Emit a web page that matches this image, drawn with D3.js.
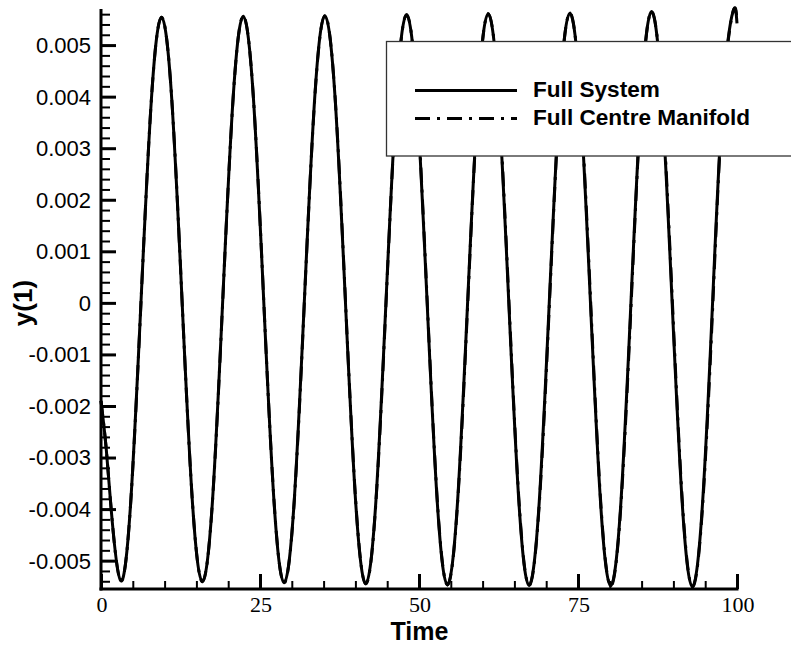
<!DOCTYPE html>
<html>
<head>
<meta charset="utf-8">
<script src="https://cdn.jsdelivr.net/npm/d3@7"></script>
<style>
  html, body { margin: 0; padding: 0; background: #fff; }
  svg { display: block; }
</style>
</head>
<body>
<svg id="chart" width="791" height="646"></svg>
<script>
// ---------------- data ----------------
const time = [
  0, 0.8, 1.6,
  3.10, 4.71, 6.31, 7.92, 9.52, 11.13, 12.73, 14.34,
  15.94, 17.55, 19.15, 20.76, 22.36, 23.97, 25.57, 27.18,
  28.78, 30.39, 31.99, 33.60, 35.20, 36.81, 38.41, 40.02,
  41.62, 43.23, 44.83, 46.44, 48.04, 49.65, 51.25, 52.86,
  54.46, 56.07, 57.67, 59.28, 60.88, 62.49, 64.09, 65.70,
  67.30, 68.91, 70.51, 72.12, 73.72, 75.33, 76.93, 78.54,
  80.14, 81.75, 83.35, 84.96, 86.56, 88.17, 89.77, 91.38,
  92.98, 94.59, 96.19, 97.80, 99.40, 100
];
const fullSystem = [
  -0.0019, -0.0028, -0.0040,
  -0.00539, -0.00379, 0.00008, 0.00394, 0.00554, 0.00394, 0.00008, -0.00380,
  -0.00541, -0.00380, 0.00008, 0.00395, 0.00556, 0.00396, 0.00008, -0.00381,
  -0.00543, -0.00382, 0.00008, 0.00397, 0.00557, 0.00397, 0.00008, -0.00382,
  -0.00545, -0.00383, 0.00008, 0.00398, 0.00559, 0.00399, 0.00008, -0.00384,
  -0.00547, -0.00384, 0.00008, 0.00400, 0.00561, 0.00400, 0.00008, -0.00385,
  -0.00548, -0.00385, 0.00008, 0.00401, 0.00562, 0.00402, 0.00008, -0.00386,
  -0.00549, -0.00386, 0.00008, 0.00402, 0.00565, 0.00403, 0.00009, -0.00387,
  -0.00551, -0.00387, 0.00009, 0.00403, 0.00566, 0.00542
];
const centreManifold = [
  -0.0019, -0.0028, -0.0040,
  -0.00539, -0.00380, 0.00007, 0.00394, 0.00554, 0.00395, 0.00009, -0.00379,
  -0.00541, -0.00381, 0.00006, 0.00394, 0.00556, 0.00397, 0.00010, -0.00379,
  -0.00543, -0.00384, 0.00005, 0.00395, 0.00557, 0.00399, 0.00012, -0.00379,
  -0.00545, -0.00386, 0.00003, 0.00396, 0.00559, 0.00401, 0.00014, -0.00380,
  -0.00547, -0.00388, 0.00001, 0.00397, 0.00561, 0.00403, 0.00016, -0.00380,
  -0.00548, -0.00390, -0.00001, 0.00398, 0.00562, 0.00405, 0.00018, -0.00380,
  -0.00549, -0.00392, -0.00003, 0.00398, 0.00565, 0.00407, 0.00021, -0.00380,
  -0.00551, -0.00394, -0.00005, 0.00398, 0.00566, 0.00548
];

const xTicks = [0, 25, 50, 75, 100];
const xTickLabels = ["0", "25", "50", "75", "100"];
const yTicks = [-0.005, -0.004, -0.003, -0.002, -0.001, 0, 0.001, 0.002, 0.003, 0.004, 0.005];
const yTickLabels = ["-0.005", "-0.004", "-0.003", "-0.002", "-0.001", "0", "0.001", "0.002", "0.003", "0.004", "0.005"];
const legendLabels = ["Full System", "Full Centre Manifold"];
const xTitle = "Time";
const yTitle = "y(1)";

// ---------------- layout ----------------
const svg = d3.select("#chart");
const plotLeft = 101, plotRight = 737, plotTop = 9, plotBottom = 589;

const x = d3.scaleLinear().domain([0, 100]).range([plotLeft, plotRight]);
const y = d3.scaleLinear().domain([-0.00555, 0.0057]).range([plotBottom, plotTop]);

// ---------------- curves ----------------
const line = d3.line()
  .x(d => x(d[0]))
  .y(d => y(d[1]))
  .curve(d3.curveNatural);

const fsData = time.map((t, i) => [t, fullSystem[i]]);
const cmData = time.map((t, i) => [t, centreManifold[i]]);

svg.append("path")
  .attr("d", line(cmData))
  .attr("fill", "none")
  .attr("stroke", "#000")
  .attr("stroke-width", 3)
  .attr("stroke-dasharray", "15,7,3,7");

svg.append("path")
  .attr("d", line(fsData))
  .attr("fill", "none")
  .attr("stroke", "#000")
  .attr("stroke-width", 3)
  .attr("stroke-linejoin", "round");

// ---------------- axes ----------------
const yMinor = d3.range(-0.0054, 0.00570001, 0.0002).filter(v => Math.abs(Math.round(v / 0.001) * 0.001 - v) > 1e-6);
const yAxis = d3.axisRight(y).tickValues(yTicks).tickSize(15).tickFormat("");
const gy = svg.append("g").attr("transform", `translate(${plotLeft},0)`).call(yAxis);
gy.select(".domain").remove();
gy.selectAll(".tick line").attr("stroke", "#000").attr("stroke-width", 3);

const yAxisMinor = d3.axisRight(y).tickValues(yMinor).tickSize(9).tickFormat("");
const gym = svg.append("g").attr("transform", `translate(${plotLeft},0)`).call(yAxisMinor);
gym.select(".domain").remove();
gym.selectAll(".tick line").attr("stroke", "#000").attr("stroke-width", 2);

svg.append("g").selectAll("text")
  .data(yTicks)
  .join("text")
  .attr("x", plotLeft - 10)
  .attr("y", d => y(d))
  .attr("dy", "0.36em")
  .attr("text-anchor", "end")
  .attr("font-family", "'Liberation Sans', Arial, Helvetica, sans-serif")
  .attr("font-size", 22)
  .attr("fill", "#000")
  .text((d, i) => yTickLabels[i]);

const xMinor = d3.range(5, 100, 5).filter(v => v % 25 !== 0);
const xAxis = d3.axisTop(x).tickValues(xTicks).tickSize(15).tickFormat("");
const gx = svg.append("g").attr("transform", `translate(0,${plotBottom})`).call(xAxis);
gx.select(".domain").remove();
gx.selectAll(".tick line").attr("stroke", "#000").attr("stroke-width", 3);

const xAxisMinor = d3.axisTop(x).tickValues(xMinor).tickSize(8).tickFormat("");
const gxm = svg.append("g").attr("transform", `translate(0,${plotBottom})`).call(xAxisMinor);
gxm.select(".domain").remove();
gxm.selectAll(".tick line").attr("stroke", "#000").attr("stroke-width", 2);

svg.append("g").selectAll("text")
  .data(xTicks)
  .join("text")
  .attr("x", d => x(d) + 1)
  .attr("y", 612)
  .attr("text-anchor", "middle")
  .attr("font-family", "'Liberation Serif', 'Times New Roman', Times, serif")
  .attr("font-size", 22)
  .attr("fill", "#000")
  .text((d, i) => xTickLabels[i]);

svg.append("line")
  .attr("x1", plotLeft).attr("x2", plotLeft)
  .attr("y1", plotTop).attr("y2", plotBottom + 1.5)
  .attr("stroke", "#000").attr("stroke-width", 3);
svg.append("line")
  .attr("x1", plotLeft - 1.5).attr("x2", plotRight + 1.5)
  .attr("y1", plotBottom).attr("y2", plotBottom)
  .attr("stroke", "#000").attr("stroke-width", 3);

svg.append("text")
  .attr("x", 419.5)
  .attr("y", 640)
  .attr("text-anchor", "middle")
  .attr("font-family", "'Liberation Sans', Arial, Helvetica, sans-serif")
  .attr("font-weight", "bold")
  .attr("font-size", 25)
  .attr("fill", "#000")
  .text(xTitle);

svg.append("text")
  .attr("transform", "translate(32,303) rotate(-90)")
  .attr("text-anchor", "middle")
  .attr("font-family", "'Liberation Sans', Arial, Helvetica, sans-serif")
  .attr("font-weight", "bold")
  .attr("font-size", 26)
  .attr("fill", "#000")
  .text(yTitle);

// ---------------- legend ----------------
const lg = svg.append("g");
lg.append("rect")
  .attr("x", 386.5).attr("y", 41.5)
  .attr("width", 420).attr("height", 114.5)
  .attr("fill", "#fff")
  .attr("stroke", "#333")
  .attr("stroke-width", 1.3);

const legendDash = [null, "15,7,3,7"];
const legendY = [90.5, 118.5];
legendLabels.forEach((lab, i) => {
  lg.append("line")
    .attr("x1", 415).attr("x2", 517)
    .attr("y1", legendY[i]).attr("y2", legendY[i])
    .attr("stroke", "#000")
    .attr("stroke-width", 3)
    .attr("stroke-dasharray", legendDash[i]);
  lg.append("text")
    .attr("x", 533)
    .attr("y", legendY[i] + 6.5)
    .attr("font-family", "'Liberation Sans', Arial, Helvetica, sans-serif")
    .attr("font-weight", "bold")
    .attr("font-size", 22.6)
    .attr("fill", "#000")
    .text(lab);
});
</script>
</body>
</html>
